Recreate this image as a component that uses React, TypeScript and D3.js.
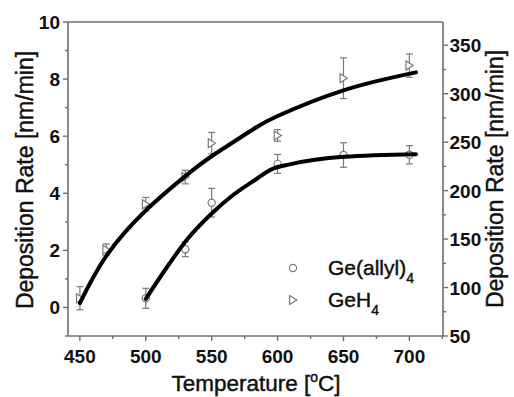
import React from "react";
import * as d3 from "d3";

// ---- data ----
const temps = [450, 470, 500, 530, 550, 600, 650, 700];
// GeH4 (right axis, nm/min)
const geh4Values = [89, 139, 186, 214, 249, 257, 316, 329];
const geh4Errors = [12, 6, 7, 7, 11, 6, 21, 12];
// Ge(allyl)4 (left axis, nm/min)
const allylTemps = [500, 530, 550, 600, 650, 700];
const allylValues = [0.32, 2.04, 3.67, 5.03, 5.34, 5.35];
const allylErrors = [0.35, 0.26, 0.5, 0.33, 0.43, 0.32];
// fitted curves
const geh4FitT = [450, 470, 500, 530, 550, 580, 600, 650, 705];
const geh4FitV = [84, 132.5, 179.5, 215, 235.5, 262, 277, 303.5, 322];
const allylFitT = [500, 518, 531, 550, 566, 584, 595, 610, 650, 705];
const allylFitV = [0.3, 1.54, 2.36, 3.29, 3.93, 4.5, 4.83, 5.02, 5.28, 5.37];

const xTicks = [450, 500, 550, 600, 650, 700];
const xMinor = [475, 525, 575, 625, 675, 725];
const yLeftTicks = [0, 2, 4, 6, 8, 10];
const yLeftMinor = [-1, 1, 3, 5, 7, 9];
const yRightTicks = [50, 100, 150, 200, 250, 300, 350];
const yRightMinor = [75, 125, 175, 225, 275, 325];

const W = 514, H = 397;
const L = 68, R = 443, T = 22, B = 336;

export default function App() {
  const x = d3.scaleLinear().domain([441, 725.5]).range([L, R]);
  const yL = d3.scaleLinear().domain([-1, 10]).range([B, T]);
  const yR = d3.scaleLinear().domain([50, 374]).range([B, T]);
  const axisColor = "#6f6f6f";
  const markColor = "#7a7a7a";
  const font = "'Liberation Sans', Arial, sans-serif";
  const heavy = { stroke: "#111", strokeWidth: 0.45 };

  const geh4Line = d3.line<[number, number]>().curve(d3.curveNatural);
  const allylLine = d3.line<[number, number]>().curve(d3.curveMonotoneX);
  const geh4Path = geh4Line(geh4FitT.map((t, i) => [x(t), yR(geh4FitV[i])]));
  const allylPath = allylLine(allylFitT.map((t, i) => [x(t), yL(allylFitV[i])]));

  const tri = (cx: number, cy: number, s = 4.5) =>
    `M${cx - s * 0.75},${cy - s} L${cx + s * 0.85},${cy} L${cx - s * 0.75},${cy + s} Z`;

  const errBar = (cx: number, y1: number, y2: number, key: string) => (
    <g key={key} stroke={markColor} strokeWidth={1.2} fill="none">
      <line x1={cx} x2={cx} y1={y1} y2={y2} />
      <line x1={cx - 3.5} x2={cx + 3.5} y1={y1} y2={y1} />
      <line x1={cx - 3.5} x2={cx + 3.5} y1={y2} y2={y2} />
    </g>
  );

  return (
    <svg width={W} height={H} style={{ position: "absolute", left: 0, top: 0, background: "#fff" }} fontFamily={font}>
      <rect x={0} y={0} width={W} height={H} fill="#fff" />
      {/* frame */}
      <g stroke={axisColor} strokeWidth={1.6} fill="none">
        <line x1={L} x2={R} y1={T} y2={T} />
        <line x1={L} x2={R} y1={B} y2={B} />
        <line x1={L} x2={L} y1={T} y2={B} />
        <line x1={R} x2={R} y1={T} y2={B} />
      </g>
      {/* ticks */}
      <g stroke={axisColor} strokeWidth={1.4}>
        {xTicks.map((t) => <line key={"xt" + t} x1={x(t)} x2={x(t)} y1={B} y2={B + 5} />)}
        {xMinor.map((t) => <line key={"xm" + t} x1={x(t)} x2={x(t)} y1={B} y2={B + 3} />)}
        {yLeftTicks.map((v) => <line key={"ylt" + v} x1={L - 5} x2={L} y1={yL(v)} y2={yL(v)} />)}
        {yLeftMinor.map((v) => <line key={"ylm" + v} x1={L - 3} x2={L} y1={yL(v)} y2={yL(v)} />)}
        {yRightTicks.map((v) => <line key={"yrt" + v} x1={R} x2={R + 5} y1={yR(v)} y2={yR(v)} />)}
        {yRightMinor.map((v) => <line key={"yrm" + v} x1={R} x2={R + 3} y1={yR(v)} y2={yR(v)} />)}
      </g>
      <g fontSize={19} fontWeight="bold" fill="#111">
        {xTicks.map((t) => (
          <text key={"xl" + t} x={x(t)} y={363} textAnchor="middle">{t}</text>
        ))}
        {yLeftTicks.map((v) => (
          <text key={"yll" + v} x={60} y={yL(v) + 7} textAnchor="end">{v}</text>
        ))}
        {yRightTicks.map((v) => (
          <text key={"yrl" + v} x={449.5} y={yR(v) + 7} textAnchor="start">{v}</text>
        ))}
      </g>
      {/* axis titles */}
      <text x={256} y={391} textAnchor="middle" fontSize={22.5} fill="#111" {...heavy}>
        Temperature [<tspan fontSize={14} dy={-9}>o</tspan><tspan dy={9}>C]</tspan>
      </text>
      <text transform="translate(33,180) rotate(-90)" textAnchor="middle" fontSize={23} fill="#111" {...heavy}>
        Deposition Rate [nm/min]
      </text>
      <text transform="translate(503,179) rotate(-90)" textAnchor="middle" fontSize={23} fill="#111" {...heavy}>
        Deposition Rate [nm/min]
      </text>
      {/* error bars */}
      {temps.map((t, i) =>
        errBar(x(t), yR(geh4Values[i] + geh4Errors[i]), yR(geh4Values[i] - geh4Errors[i]), "ge" + i)
      )}
      {allylTemps.map((t, i) =>
        errBar(x(t), yL(allylValues[i] + allylErrors[i]), yL(allylValues[i] - allylErrors[i]), "ae" + i)
      )}
      {/* markers */}
      {temps.map((t, i) => (
        <path key={"gm" + i} d={tri(x(t), yR(geh4Values[i]))} fill="#fff" stroke={markColor} strokeWidth={1.2} />
      ))}
      {allylTemps.map((t, i) => (
        <circle key={"am" + i} cx={x(t)} cy={yL(allylValues[i])} r={3.6} fill="#fff" stroke={markColor} strokeWidth={1.2} />
      ))}
      {/* fit curves */}
      <path d={geh4Path || ""} fill="none" stroke="#000" strokeWidth={4} strokeLinecap="round" />
      <path d={allylPath || ""} fill="none" stroke="#000" strokeWidth={4} strokeLinecap="round" />
      {/* legend */}
      <circle cx={293} cy={268} r={3.6} fill="#fff" stroke={markColor} strokeWidth={1.2} />
      <path d={tri(293, 300)} fill="#fff" stroke={markColor} strokeWidth={1.2} />
      <text x={328} y={275} fontSize={21} fill="#111" {...heavy}>
        Ge(allyl)<tspan fontSize={14} dy={8}>4</tspan>
      </text>
      <text x={328} y={307} fontSize={21} fill="#111" {...heavy}>
        GeH<tspan fontSize={14} dy={8}>4</tspan>
      </text>
    </svg>
  );
}
